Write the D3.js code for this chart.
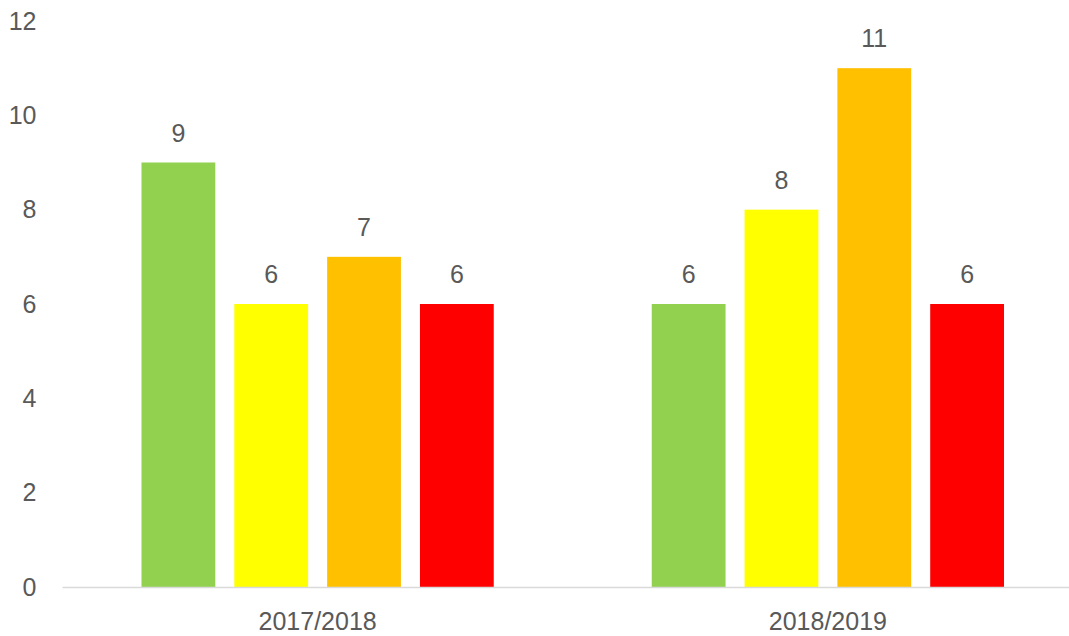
<!DOCTYPE html>
<html>
<head>
<meta charset="utf-8">
<script src="https://cdn.jsdelivr.net/npm/d3@7"></script>
<style>
  html, body { margin: 0; padding: 0; background: #fff; overflow: hidden; }
  svg { display: block; }
  svg text { font-family: "Liberation Sans", "Open Sans", sans-serif; fill: #595959; }
</style>
</head>
<body>
<div id="chart"></div>
<script>
const categories = ['2017/2018', '2018/2019'];
const seriesNames = ['s1', 's2', 's3', 's4'];
const seriesColors = ['#92D050', '#FFFF00', '#FFC000', '#FF0000'];
const values = [
  [9, 6, 7, 6],
  [6, 8, 11, 6]
];
const yTicks = [0, 2, 4, 6, 8, 10, 12];

const width = 1069;
const height = 636;
const margin = { top: 21, right: -14, bottom: 49, left: 62.5 };
const w = width - margin.left - margin.right;
const h = height - margin.top - margin.bottom;

const svg = d3.select('#chart')
  .append('svg')
  .attr('width', width)
  .attr('height', height);

const g = svg.append('g').attr('transform', `translate(${margin.left},${margin.top})`);

const x0 = d3.scaleBand().domain(categories).range([0, w]).padding(0);
const x1 = d3.scaleBand().domain(seriesNames)
  .range([79, x0.bandwidth() - 79])
  .paddingInner(0.205)
  .paddingOuter(0);
const y = d3.scaleLinear().domain([0, 12]).range([h, 0]);

// Y tick labels (no axis line)
g.selectAll('.ytick')
  .data(yTicks)
  .join('text')
  .attr('class', 'ytick')
  .attr('x', -26)
  .attr('y', (d) => y(d))
  .attr('dy', '0.35em')
  .attr('text-anchor', 'end')
  .attr('font-size', '25px')
  .text((d) => d);

// Bars
const groups = g.selectAll('.group')
  .data(categories)
  .join('g')
  .attr('class', 'group')
  .attr('transform', (d) => `translate(${x0(d)},0)`);

groups.selectAll('rect')
  .data((d, i) => values[i].map((v, j) => ({ key: seriesNames[j], value: v, color: seriesColors[j] })))
  .join('rect')
  .attr('x', (d) => x1(d.key))
  .attr('y', (d) => y(d.value))
  .attr('width', x1.bandwidth())
  .attr('height', (d) => h - y(d.value))
  .attr('fill', (d) => d.color);

groups.selectAll('.label')
  .data((d, i) => values[i].map((v, j) => ({ key: seriesNames[j], value: v })))
  .join('text')
  .attr('class', 'label')
  .attr('x', (d) => x1(d.key) + x1.bandwidth() / 2)
  .attr('y', (d) => y(d.value) - 21)
  .attr('text-anchor', 'middle')
  .attr('font-size', '25px')
  .text((d) => d.value);

// X axis baseline
g.append('line')
  .attr('x1', 0)
  .attr('x2', w)
  .attr('y1', h + 0.5)
  .attr('y2', h + 0.5)
  .attr('stroke', '#d9d9d9')
  .attr('stroke-width', 1.5);

// Category labels
g.selectAll('.xlabel')
  .data(categories)
  .join('text')
  .attr('class', 'xlabel')
  .attr('x', (d) => x0(d) + x0.bandwidth() / 2)
  .attr('y', h + 43)
  .attr('text-anchor', 'middle')
  .attr('font-size', '25px')
  .text((d) => d);
</script>
</body>
</html>
